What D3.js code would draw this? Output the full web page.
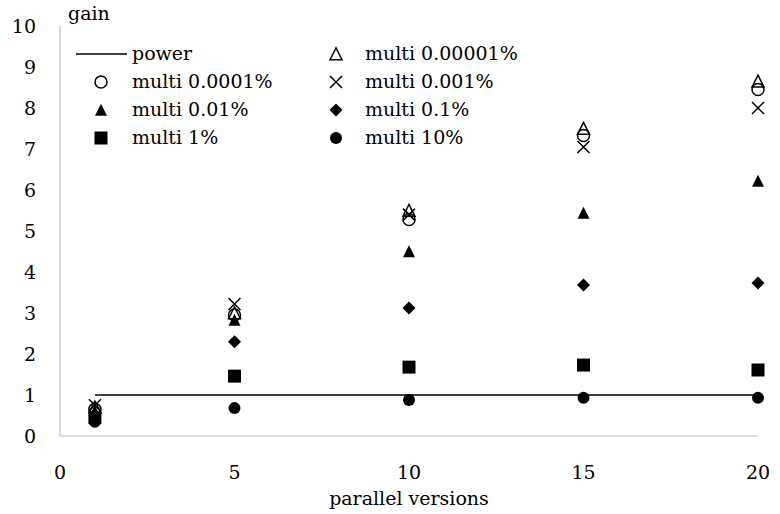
<!DOCTYPE html>
<html>
<head>
<meta charset="utf-8">
<script src="https://cdn.jsdelivr.net/npm/d3@7"></script>
<style>
  html, body { margin: 0; padding: 0; background: #fff; }
</style>
</head>
<body>
<svg id="chart" width="780" height="514" font-family="'DejaVu Serif', serif"></svg>
<script>
// Parallel versions on the x axis, gain on the y axis
const xValues = [1, 5, 10, 15, 20];
const power = [1, 1, 1, 1, 1];
const multi00001 = [0.70, 3.00, 5.50, 7.50, 8.65];   // multi 0.00001%
const multi0001  = [0.65, 2.95, 5.28, 7.33, 8.45];   // multi 0.0001%
const multi001   = [0.75, 3.22, 5.40, 7.05, 8.00];   // multi 0.001%
const multi01    = [0.60, 2.83, 4.50, 5.44, 6.22];   // multi 0.01%
const multi1     = [0.50, 2.30, 3.12, 3.68, 3.73];   // multi 0.1%
const multi10    = [0.45, 1.46, 1.68, 1.73, 1.61];   // multi 1%
const multi100   = [0.35, 0.68, 0.88, 0.93, 0.93];   // multi 10%

const xTicks = [0, 5, 10, 15, 20];
const yTicks = [0, 1, 2, 3, 4, 5, 6, 7, 8, 9, 10];

const svg = d3.select("#chart");
const FONT = 19;

const x = d3.scaleLinear().domain([0, 20]).range([60, 758]);
const y = d3.scaleLinear().domain([0, 10]).range([436, 26]);

// marker shapes, sized in pixels
const M = 12;
const shapes = {
  triUp: { draw(c) { const h = M * 0.95; c.moveTo(0, -h / 2 - 0.5); c.lineTo(M / 2, h / 2); c.lineTo(-M / 2, h / 2); c.closePath(); } },
  circle: { draw(c) { c.moveTo(M / 2, 0); c.arc(0, 0, M / 2, 0, 2 * Math.PI); } },
  cross: { draw(c) { const r = M / 2; c.moveTo(-r, -r); c.lineTo(r, r); c.moveTo(r, -r); c.lineTo(-r, r); } },
  diamond: { draw(c) { const r = M / 2 + 0.5; c.moveTo(0, -r); c.lineTo(r, 0); c.lineTo(0, r); c.lineTo(-r, 0); c.closePath(); } },
  square: { draw(c) { const r = M / 2 + 0.5; c.rect(-r, -r, 2 * r, 2 * r); } }
};

const series = [
  { name: "multi 0.00001%", values: multi00001, shape: shapes.triUp, filled: false },
  { name: "multi 0.0001%", values: multi0001, shape: shapes.circle, filled: false },
  { name: "multi 0.001%", values: multi001, shape: shapes.cross, filled: false },
  { name: "multi 0.01%", values: multi01, shape: shapes.triUp, filled: true },
  { name: "multi 0.1%", values: multi1, shape: shapes.diamond, filled: true },
  { name: "multi 1%", values: multi10, shape: shapes.square, filled: true },
  { name: "multi 10%", values: multi100, shape: shapes.circle, filled: true }
];

function styleMarker(sel, s) {
  sel.attr("d", d3.symbol().type(s.shape).size(1)())
    .attr("fill", s.filled ? "#000" : "none")
    .attr("stroke", "#000")
    .attr("stroke-width", s.filled ? 0 : 1.5);
}

// axes
const axisColor = "#bfbfbf";
svg.append("line").attr("x1", x(0)).attr("x2", x(0)).attr("y1", y(10)).attr("y2", y(0))
  .attr("stroke", axisColor).attr("stroke-width", 1.2);
svg.append("line").attr("x1", x(0)).attr("x2", x(20)).attr("y1", y(0)).attr("y2", y(0))
  .attr("stroke", axisColor).attr("stroke-width", 1.2);

svg.append("g").selectAll("text").data(yTicks).join("text")
  .attr("x", 36).attr("y", d => y(d)).attr("dy", "0.35em")
  .attr("text-anchor", "end").attr("font-size", FONT).text(d => d);

svg.append("g").selectAll("text").data(xTicks).join("text")
  .attr("x", d => x(d)).attr("y", 472).attr("dy", "0.35em")
  .attr("text-anchor", "middle").attr("font-size", FONT).text(d => d);

svg.append("text").attr("x", 68).attr("y", 20).attr("font-size", FONT).text("gain");
svg.append("text").attr("x", x(10)).attr("y", 505).attr("text-anchor", "middle")
  .attr("font-size", FONT).text("parallel versions");

// power line
svg.append("path")
  .datum(xValues.map((v, i) => [v, power[i]]))
  .attr("d", d3.line().x(d => x(d[0])).y(d => y(d[1])))
  .attr("fill", "none").attr("stroke", "#000").attr("stroke-width", 1.5);

// scatter markers
series.forEach(s => {
  svg.append("g").selectAll("path")
    .data(xValues.map((v, i) => [v, s.values[i]]))
    .join("path")
    .attr("transform", d => `translate(${x(d[0])},${y(d[1])})`)
    .call(sel => styleMarker(sel, s));
});

// legend, two columns
const rowY = [54, 82, 110, 138];
const colMarkerX = [101, 336];
const colTextX = [132, 365];
const legendItems = [{ name: "power", line: true }].concat(series);
legendItems.forEach((item, i) => {
  const col = i % 2, row = Math.floor(i / 2);
  const g = svg.append("g").attr("transform", `translate(0,${rowY[row]})`);
  if (item.line) {
    g.append("line").attr("x1", 76).attr("x2", 127).attr("y1", 0).attr("y2", 0)
      .attr("stroke", "#000").attr("stroke-width", 1.5);
  } else {
    g.append("path").attr("transform", `translate(${colMarkerX[col]},0)`)
      .call(sel => styleMarker(sel, item));
  }
  g.append("text").attr("x", colTextX[col]).attr("y", 0).attr("dy", "0.3em")
    .attr("font-size", FONT).text(item.name);
});
</script>
</body>
</html>
